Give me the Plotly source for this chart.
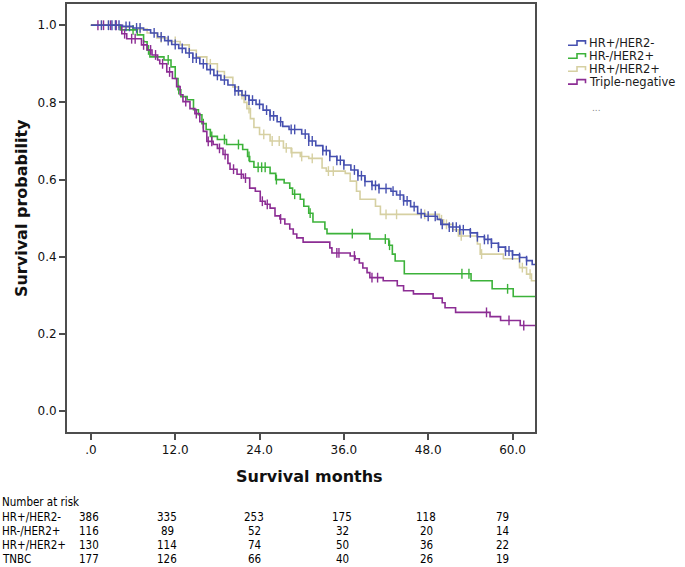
import plotly.graph_objects as go

# ---------------- data ----------------
x_tick_vals = [0, 12, 24, 36, 48, 60]
x_tick_text = [".0", "12.0", "24.0", "36.0", "48.0", "60.0"]
y_tick_vals = [0.0, 0.2, 0.4, 0.6, 0.8, 1.0]
y_tick_text = ["0.0", "0.2", "0.4", "0.6", "0.8", "1.0"]
follow_up_end = 63.2

legend_names = ["HR+/HER2-", "HR-/HER2+", "HR+/HER2+", "Triple-negative"]

# HR+/HER2-
hrp_her2n_t = [0, 4.5, 6, 7.5, 8.5, 9.5, 10.5, 11.5, 12.5, 13.5, 14.5, 15.5, 16.5, 17.5, 18.5, 19.5,
               20.5, 21.5, 22.5, 23.5, 24.5, 25.5, 26.5, 27.3, 28.2, 30, 31, 32, 33, 34, 35, 36, 37,
               38, 39, 40, 41, 42.7, 43.5, 44.5, 45.5, 46.5, 47.5, 49.3, 49.8, 51, 52.5, 54, 55,
               56, 57, 58, 59, 60, 61, 62, 62.8]
hrp_her2n_s = [1.0, 0.997, 0.993, 0.988, 0.98, 0.97, 0.96, 0.95, 0.94, 0.928, 0.915, 0.9, 0.885, 0.87,
               0.858, 0.845, 0.83, 0.818, 0.806, 0.795, 0.78, 0.765, 0.75, 0.738, 0.73, 0.718, 0.7,
               0.688, 0.675, 0.66, 0.65, 0.638, 0.625, 0.61, 0.595, 0.585, 0.577, 0.57, 0.56, 0.545,
               0.53, 0.512, 0.505, 0.497, 0.484, 0.477, 0.47, 0.462, 0.452, 0.445, 0.435, 0.425,
               0.415, 0.405, 0.398, 0.39, 0.38]
hrp_her2n_cens = [1.5, 2.5, 3, 3.5, 4, 5, 5.5, 6.5, 7, 9, 10, 11, 12, 13, 14, 14.5, 15, 16, 17, 18, 19,
                  20.5, 21, 22, 22.5, 23, 24, 25, 25.5, 26, 27, 28.5, 29, 30.5, 31, 31.5, 33, 33.5,
                  34, 35, 35.5, 36, 37.5, 38, 38.5, 39, 40, 40.5, 41, 42, 43, 44, 44.5, 45, 46, 47,
                  48, 49, 50, 51, 51.5, 52, 52.5, 53, 54, 55, 56, 56.5, 57, 58, 59, 59.5, 60, 61, 62]

# HR-/HER2+
hrn_her2p_t = [0, 4.2, 6.6, 7.5, 8, 8.4, 10.4, 11.4, 12, 12.4, 12.8, 13.7, 14.6, 15.3, 15.8, 16.4, 17,
               18, 19.3, 21.6, 22.3, 22.6, 23.2, 25.5, 26.3, 27.5, 28.3, 28.7, 29.8, 30.3, 31, 31.6,
               33.3, 33.6, 39.7, 42.4, 42.9, 43.3, 44.6, 54.1, 57.1, 60.1]
hrn_her2p_s = [1.0, 0.988, 0.975, 0.957, 0.936, 0.918, 0.91, 0.892, 0.862, 0.833, 0.815, 0.807, 0.781,
               0.768, 0.745, 0.73, 0.712, 0.704, 0.691, 0.678, 0.66, 0.647, 0.632, 0.616, 0.6, 0.591,
               0.578, 0.562, 0.549, 0.531, 0.513, 0.49, 0.472, 0.46, 0.446, 0.43, 0.407, 0.389,
               0.356, 0.338, 0.317, 0.297]
hrn_her2p_cens = [6, 8.2, 11, 12.5, 16, 17.2, 19, 21, 22.5, 23.8, 24.3, 24.8, 26.4, 29, 31.2, 37.2,
                  41.9, 42.5, 52.8, 53.8, 59.3]

# HR+/HER2+
hrp_her2p_t = [0, 4, 6, 8, 9.4, 11, 12.7, 14, 15, 16.5, 18, 19, 20.2, 21, 21.8, 22.2, 22.7, 23.2, 24,
               25.5, 27.4, 28.5, 29.8, 31, 32.9, 33.5, 36.2, 36.9, 37.8, 38.3, 40.5, 41.2, 49.6,
               50.2, 51.5, 52.3, 55, 55.4, 58.7, 61, 62, 62.7]
hrp_her2p_s = [1.0, 0.995, 0.99, 0.98, 0.967, 0.958, 0.949, 0.935, 0.918, 0.9, 0.88, 0.865, 0.84,
               0.82, 0.8, 0.784, 0.758, 0.735, 0.717, 0.7, 0.682, 0.67, 0.66, 0.655, 0.63, 0.622,
               0.616, 0.596, 0.57, 0.549, 0.531, 0.51, 0.496, 0.484, 0.47, 0.454, 0.433, 0.407,
               0.395, 0.372, 0.355, 0.338]
hrp_her2p_cens = [1.5, 2.5, 3.5, 7, 10, 12, 14, 17, 21.5, 22.5, 24.6, 25.8, 26.8, 27.8, 28.6, 30,
                  31.5, 33.8, 34.5, 42, 43.5, 47.5, 49.9, 50.6, 52.7, 55.6, 61.4, 62.5]

# Triple-negative
tnbc_t = [0, 4.4, 5.1, 7.2, 8, 8.7, 9.5, 9.8, 10.8, 11.6, 12.2, 12.7, 13.1, 14.1, 14.8, 15.5, 16,
          16.5, 17.4, 18, 18.8, 19.5, 19.8, 20.8, 21.7, 22.6, 23.4, 24.1, 24.8, 25.5, 26.2, 26.9,
          27.6, 28.3, 28.8, 29.3, 30.2, 34, 34.3, 36.9, 37.6, 38.2, 38.7, 39.3, 39.7, 41.6, 43.6,
          44.5, 45.9, 48.7, 50, 50.4, 51.9, 56.8, 58.3, 61.1]
tnbc_s = [1.0, 0.978, 0.965, 0.949, 0.936, 0.923, 0.91, 0.9, 0.879, 0.862, 0.841, 0.82, 0.802, 0.784,
          0.771, 0.75, 0.725, 0.699, 0.691, 0.681, 0.665, 0.642, 0.627, 0.614, 0.604, 0.578, 0.57,
          0.544, 0.536, 0.526, 0.506, 0.498, 0.485, 0.472, 0.459, 0.449, 0.438, 0.423, 0.41,
          0.402, 0.395, 0.384, 0.371, 0.359, 0.346, 0.338, 0.325, 0.312, 0.304, 0.293, 0.281,
          0.268, 0.256, 0.245, 0.235, 0.222]
tnbc_cens = [1, 1.8, 2.8, 3.6, 4.8, 5.8, 6.3, 7.5, 8.5, 9.2, 10.2, 11.2, 13.5, 15, 16.7, 17.2, 18.3,
             19.1, 20.3, 21.4, 22, 24.4, 25.1, 27, 35, 35.3, 37.5, 40, 40.8, 56.3, 59.5, 61.6]

# number at risk table
risk_row_labels = ["HR+/HER2-", "HR-/HER2+", "HR+/HER2+", "TNBC"]
risk_hrp_her2n = [386, 335, 253, 175, 118, 79]
risk_hrn_her2p = [116, 89, 52, 32, 20, 14]
risk_hrp_her2p = [130, 114, 74, 50, 36, 22]
risk_tnbc = [177, 126, 66, 40, 26, 19]

# ---------------- styling ----------------
colors = ["#4650b0", "#3cb23a", "#d6d0a2", "#8c2d94"]
series = [
    (hrp_her2n_t, hrp_her2n_s, hrp_her2n_cens),
    (hrn_her2p_t, hrn_her2p_s, hrn_her2p_cens),
    (hrp_her2p_t, hrp_her2p_s, hrp_her2p_cens),
    (tnbc_t, tnbc_s, tnbc_cens),
]
draw_order = [2, 1, 3, 0]


def surv_at(ts, ss, t):
    val = ss[0]
    for ti, si in zip(ts, ss):
        if ti <= t:
            val = si
        else:
            break
    return val


fig = go.Figure()
for i in draw_order:
    ts, ss, cens = series[i]
    xs = list(ts) + [follow_up_end]
    ys = list(ss) + [ss[-1]]
    fig.add_trace(go.Scatter(x=xs, y=ys, mode="lines", line=dict(color=colors[i], width=1.6, shape="hv"),
                             name=legend_names[i], showlegend=False, hoverinfo="skip"))
    fig.add_trace(go.Scatter(x=cens, y=[surv_at(ts, ss, c) for c in cens], mode="markers",
                             marker=dict(symbol="line-ns", size=7, line=dict(color=colors[i], width=1.4)),
                             showlegend=False, hoverinfo="skip"))

# plot area in pixels
W, H = 685, 567
L, R, T, B = 67, 150, 2, 135
PW, PH = W - L - R, H - T - B


def px(x):
    return (x - L) / PW


def py(y):
    return (H - B - y) / PH


axis_color = "#4d4d4d"
tickfont = dict(family="DejaVu Sans", size=12, color="#111")
fig.update_xaxes(range=[-3.4, follow_up_end], tickvals=x_tick_vals, ticktext=x_tick_text,
                 showline=True, mirror=True, linecolor=axis_color, linewidth=2,
                 ticks="outside", ticklen=6, tickwidth=1.5, tickcolor=axis_color,
                 showgrid=False, zeroline=False, tickfont=tickfont)
fig.update_yaxes(range=[-0.054, 1.055], tickvals=y_tick_vals, ticktext=y_tick_text,
                 showline=True, mirror=True, linecolor=axis_color, linewidth=2,
                 ticks="outside", ticklen=6, tickwidth=1.5, tickcolor=axis_color,
                 showgrid=False, zeroline=False, tickfont=tickfont)

annotations = []
shapes = []
# axis titles
annotations.append(dict(text="<b>Survival probability</b>", textangle=-90, xref="paper", yref="paper",
                        x=px(21), y=py(207), showarrow=False, xanchor="center", yanchor="middle",
                        font=dict(family="DejaVu Sans", size=16, color="#111")))
annotations.append(dict(text="<b>Survival months</b>", xref="paper", yref="paper",
                        x=px(309), y=py(477), showarrow=False, xanchor="center", yanchor="middle",
                        font=dict(family="DejaVu Sans", size=16, color="#111")))

# manual legend
leg_rows = [41, 54, 67, 80]
for name, c, yy in zip(legend_names, colors, leg_rows):
    annotations.append(dict(text=name, xref="paper", yref="paper", x=px(587), y=py(yy), showarrow=False,
                            xanchor="left", yanchor="middle",
                            font=dict(family="DejaVu Sans", size=11.5, color="#1a1a1a")))
    path = "M {} {} L {} {} L {} {} L {} {} L {} {}".format(
        px(568), py(yy + 2.5), px(577), py(yy + 2.5), px(577), py(yy - 2), px(585.5), py(yy - 2),
        px(585.5), py(yy + 1.5))
    shapes.append(dict(type="path", xref="paper", yref="paper", path=path,
                       line=dict(color=c, width=1.6)))
annotations.append(dict(text="...", xref="paper", yref="paper", x=px(596), y=py(106), showarrow=False,
                        xanchor="center", yanchor="middle",
                        font=dict(family="DejaVu Sans", size=9, color="#888")))

# number at risk table
table_font = dict(family="DejaVu Sans Condensed", size=11.5, color="#000")
annotations.append(dict(text="Number at risk", xref="paper", yref="paper", x=px(0), y=py(502),
                        showarrow=False, xanchor="left", yanchor="middle", font=table_font))
row_y = [517, 531.5, 546, 560]
col_x = [89, 167, 254, 342, 426, 502]
for lab, vals, yy in zip(risk_row_labels, [risk_hrp_her2n, risk_hrn_her2p, risk_hrp_her2p, risk_tnbc], row_y):
    annotations.append(dict(text=lab, xref="paper", yref="paper", x=px(0), y=py(yy), showarrow=False,
                            xanchor="left", yanchor="middle", font=table_font))
    for v, xx in zip(vals, col_x):
        annotations.append(dict(text=str(v), xref="paper", yref="paper", x=px(xx), y=py(yy),
                                showarrow=False, xanchor="center", yanchor="middle", font=table_font))

fig.update_layout(width=W, height=H, margin=dict(l=L, r=R, t=T, b=B, pad=0),
                  paper_bgcolor="white", plot_bgcolor="white", showlegend=False,
                  annotations=annotations, shapes=shapes)

fig.write_html("out.html", config={"displayModeBar": False},
               post_script="document.body.style.margin='0';document.body.style.overflow='hidden';")
